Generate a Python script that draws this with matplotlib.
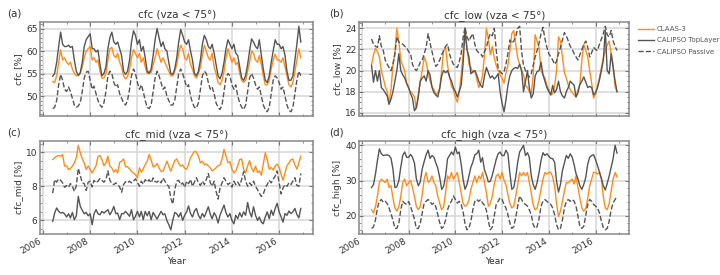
import matplotlib
matplotlib.use("Agg")
import matplotlib.pyplot as plt
import matplotlib.dates as mdates
from matplotlib.ticker import MultipleLocator, AutoMinorLocator
import pandas as pd

# monthly means, Jun 2006 .. Dec 2016
months = pd.date_range("2006-06-01", periods=127, freq="MS")

# ---- cfc (total) ----
claas_cfc = [53.2, 53.0, 54.5, 57.5, 60.3, 58.0, 58.5,
             57.5, 57.0, 57.5, 56.0, 55.0, 54.5, 54.5, 55.0, 56.5, 58.5, 60.0, 60.5,
             61.0, 58.0, 58.5, 57.5, 58.0, 55.5, 54.0, 54.0, 55.0, 58.0, 60.5, 60.8,
             59.0, 58.5, 59.5, 57.5, 56.5, 54.5, 53.8, 54.3, 56.0, 58.5, 60.3, 59.5,
             58.5, 59.5, 57.5, 58.5, 56.5, 55.0, 55.5, 55.2, 57.0, 58.5, 60.5, 59.0,
             57.5, 58.5, 57.5, 56.5, 55.5, 54.5, 54.5, 55.5, 57.0, 59.5, 61.3, 60.5,
             58.5, 58.0, 59.5, 57.0, 56.0, 54.5, 54.0, 55.0, 56.5, 59.0, 61.3, 60.0,
             58.5, 58.0, 59.5, 56.5, 55.0, 53.0, 52.5, 53.5, 55.5, 58.5, 60.5, 59.0,
             57.5, 58.5, 57.0, 57.5, 55.0, 53.5, 53.0, 53.5, 55.5, 57.5, 60.0, 59.5,
             58.0, 57.5, 59.0, 57.0, 54.5, 52.5, 52.5, 53.5, 56.0, 58.0, 59.3, 58.0,
             58.0, 57.5, 58.5, 56.5, 54.5, 52.5, 52.0, 53.0, 55.5, 58.0, 60.5, 58.5]
top_cfc = [54.4, 55.0, 57.5, 61.0, 64.2, 61.5, 61.0,
           61.0, 61.3, 60.8, 61.0, 58.0, 55.5, 54.6, 55.2, 57.5, 61.0, 62.5, 63.2,
           63.8, 60.5, 60.5, 59.8, 60.2, 57.0, 54.5, 55.0, 56.5, 60.5, 63.0, 64.2,
           62.0, 61.5, 62.0, 60.5, 59.0, 55.5, 54.8, 55.5, 58.0, 62.0, 64.5, 63.5,
           61.5, 62.5, 60.0, 61.0, 58.5, 55.5, 55.0, 56.0, 59.0, 62.5, 65.0, 63.0,
           61.0, 62.0, 60.5, 60.0, 57.5, 55.0, 54.8, 56.0, 58.5, 62.0, 64.8, 63.5,
           62.0, 61.5, 62.5, 60.0, 58.0, 55.0, 54.5, 55.5, 58.0, 61.5, 63.5, 62.5,
           61.0, 60.5, 61.5, 59.5, 57.0, 54.5, 53.8, 55.0, 57.5, 60.5, 62.5, 61.5,
           60.5, 61.5, 59.5, 59.0, 56.5, 54.0, 53.5, 54.5, 57.0, 60.0, 62.7, 62.0,
           61.0, 60.5, 62.5, 59.0, 56.0, 53.5, 53.0, 54.5, 57.5, 60.0, 62.5, 61.5,
           61.5, 60.5, 61.0, 59.0, 55.5, 53.5, 53.5, 54.5, 58.0, 61.5, 65.5, 62.0]
pas_cfc = [47.2, 47.5, 49.0, 52.5, 54.8, 53.5, 51.5,
           51.0, 52.0, 51.0, 49.5, 48.0, 47.5, 47.8, 48.5, 51.0, 54.0, 55.3, 55.5,
           53.5, 51.5, 52.2, 50.5, 49.0, 48.0, 47.5, 48.5, 51.0, 54.5, 55.5, 55.0,
           53.0, 52.0, 52.5, 50.5, 49.5, 48.5, 48.0, 49.0, 51.5, 54.5, 56.0, 55.0,
           53.0, 51.5, 52.5, 51.0, 49.0, 47.5, 47.2, 48.0, 51.0, 54.0, 55.5, 54.5,
           53.0, 51.5, 52.0, 50.0, 49.0, 48.0, 48.0, 49.0, 52.0, 55.0, 56.0, 55.0,
           53.5, 52.0, 52.5, 50.0, 48.5, 47.5, 47.3, 48.5, 51.5, 54.5, 55.5, 55.0,
           53.0, 51.5, 52.0, 50.5, 48.5, 47.5, 47.0, 48.0, 51.0, 54.0, 55.0, 54.5,
           52.5, 51.5, 52.5, 50.0, 48.5, 47.5, 47.0, 48.0, 51.0, 54.0, 55.0, 54.0,
           52.5, 51.5, 52.0, 50.0, 48.0, 47.0, 46.5, 47.5, 50.5, 53.5, 54.5, 54.0,
           53.0, 51.5, 52.0, 50.0, 48.0, 46.8, 46.5, 47.5, 50.5, 53.5, 55.5, 54.5]

# ---- cfc_low ----
claas_low = [20.6, 21.5, 22.1, 21.8, 21.3, 20.0, 19.3, 18.5, 18.0, 16.9,
             18.2, 20.5, 21.7, 24.0, 22.8, 21.0, 20.5, 20.0, 18.8, 18.3,
             18.0, 17.8, 17.5, 16.4, 17.8, 19.0, 20.0, 21.3, 20.8, 19.8,
             19.0, 18.5, 18.2, 17.7, 17.9, 18.3, 20.0, 21.9, 22.2, 20.5,
             19.5, 18.5, 18.2, 17.5, 17.0, 18.0, 19.5, 21.6, 24.1, 22.2,
             20.6, 20.3, 19.8, 20.0, 19.2, 18.4, 18.8, 19.5, 21.5, 24.0,
             23.0, 21.5, 22.3, 21.2, 20.5, 20.0, 19.6, 19.3, 18.8, 19.8,
             20.5, 21.8, 23.5, 23.8, 22.5, 21.2, 20.6, 20.0, 19.6, 18.6,
             18.4, 18.0, 17.8, 19.5, 23.4, 22.8, 22.2, 20.0, 19.6, 19.3,
             18.6, 18.2, 17.7, 17.8, 18.6, 20.0, 23.2, 22.8, 21.3, 19.8,
             19.3, 18.6, 18.2, 17.9, 17.7, 17.5, 18.2, 18.7, 21.0, 22.5,
             21.9, 21.3, 20.0, 18.8, 17.4, 17.8, 18.6, 19.3, 20.3, 21.2,
             21.9, 22.4, 22.8, 21.6, 20.6, 18.5, 18.0]
top_low = [20.5, 18.9, 20.0, 19.0, 20.0, 18.4, 18.2, 17.9, 17.6, 16.8,
           17.3, 18.0, 19.0, 20.0, 21.6, 20.0, 19.6, 19.3, 18.8, 18.4,
           17.8, 17.4, 16.2, 16.5, 17.5, 19.0, 19.3, 19.5, 19.0, 20.0,
           19.6, 18.4, 17.9, 17.7, 17.5, 18.3, 19.5, 20.0, 19.8, 20.0,
           19.4, 19.0, 18.4, 18.0, 17.5, 18.0, 18.6, 20.6, 23.8, 22.0,
           21.3, 19.7, 19.9, 20.0, 19.6, 19.0, 18.6, 18.4, 19.5, 20.3,
           19.8, 19.3, 19.5, 19.2, 19.4, 19.7, 18.0, 16.9, 16.1, 17.2,
           18.6, 19.5, 20.0, 20.2, 20.3, 20.2, 20.6, 20.0, 18.0, 19.0,
           20.0, 18.4, 17.4, 17.8, 19.5, 19.9, 20.0, 20.8, 19.6, 19.0,
           18.4, 18.0, 17.7, 18.6, 17.9, 18.2, 19.0, 18.0, 17.6, 17.4,
           18.0, 18.4, 19.0, 18.8, 18.6, 17.5, 17.9, 18.7, 19.0, 19.4,
           18.9, 18.4, 18.5, 18.4, 17.7, 17.9, 18.4, 19.1, 20.0, 21.0,
           23.8, 20.0, 19.7, 21.6, 20.3, 19.0, 18.0]
pas_low = [23.0, 22.5, 22.3, 22.2, 23.3, 22.3, 21.9, 21.0, 20.6, 20.3,
           20.0, 20.6, 21.6, 23.2, 22.7, 22.6, 22.5, 22.3, 22.2, 21.8,
           21.6, 20.6, 20.2, 20.0, 20.3, 20.8, 21.0, 21.6, 22.2, 23.5,
           22.6, 21.8, 21.0, 20.4, 20.6, 21.0, 21.5, 21.9, 22.3, 22.5,
           21.6, 21.0, 20.6, 20.4, 20.3, 20.8, 21.6, 23.1, 24.1, 23.2,
           22.8, 23.2, 23.5, 22.5, 21.9, 21.7, 21.6, 21.3, 21.8, 22.2,
           23.0, 23.5, 23.3, 24.0, 22.0, 20.2, 19.9, 19.7, 19.9, 20.6,
           21.6, 22.9, 22.6, 22.8, 23.2, 24.0, 24.2, 21.8, 20.5, 20.0,
           19.6, 19.4, 19.7, 20.5, 21.3, 21.9, 22.6, 23.5, 24.1, 23.0,
           22.2, 21.6, 21.3, 21.0, 20.6, 20.9, 21.6, 22.2, 22.9, 23.6,
           23.3, 22.8, 22.3, 22.0, 21.6, 21.3, 21.0, 21.5, 22.0, 22.5,
           22.8, 22.2, 21.3, 21.7, 22.2, 22.0, 21.9, 22.5, 23.0, 23.5,
           24.2, 23.4, 23.2, 23.8, 22.8, 22.3, 21.9]

# ---- cfc_mid ----
claas_mid = [9.57, 9.67, 9.76, 9.80, 9.76, 9.86, 9.18, 9.20, 8.98, 9.04,
             9.18, 9.37, 9.67, 10.40, 9.96, 9.60, 9.37, 8.98, 9.20, 8.98,
             8.78, 8.98, 9.20, 9.76, 9.80, 9.57, 9.20, 9.37, 9.76, 9.18,
             9.08, 8.82, 8.98, 8.78, 9.41, 9.47, 9.60, 9.14, 9.14, 9.02,
             8.88, 8.78, 8.69, 8.49, 9.08, 8.82, 9.02, 9.27, 9.47, 9.86,
             9.53, 9.14, 9.18, 9.33, 9.08, 8.88, 8.88, 9.14, 9.47, 9.18,
             8.88, 9.20, 9.50, 9.60, 9.35, 9.18, 9.25, 9.06, 9.00, 9.30,
             9.67, 9.86, 10.05, 10.00, 9.75, 9.37, 9.47, 9.27, 9.30, 9.20,
             9.08, 8.90, 8.98, 9.08, 9.20, 9.25, 9.60, 10.16, 9.80, 9.37,
             9.45, 9.00, 8.78, 8.90, 9.20, 9.57, 9.60, 9.00, 8.78, 9.20,
             9.50, 9.06, 8.85, 9.18, 8.80, 8.90, 8.65, 9.30, 9.96, 9.57,
             9.00, 9.10, 8.95, 9.18, 9.30, 9.10, 8.70, 8.35, 8.80, 9.20,
             9.37, 9.55, 9.60, 9.25, 9.00, 9.37, 9.76]
top_mid = [5.94, 6.43, 6.73, 6.53, 6.43, 6.47, 6.39, 6.20, 6.39, 6.14,
           6.47, 6.04, 6.27, 7.41, 6.82, 6.59, 6.39, 6.47, 6.27, 6.39,
           5.75, 6.39, 6.63, 6.39, 6.33, 6.53, 6.43, 6.53, 6.63, 6.33,
           6.53, 6.82, 6.39, 6.43, 6.04, 6.39, 6.39, 6.53, 6.39, 6.24,
           6.63, 6.04, 6.24, 6.53, 6.20, 6.53, 6.04, 6.53, 6.27, 6.53,
           6.04, 6.47, 6.27, 6.08, 6.31, 6.53, 6.33, 6.39, 6.00, 5.75,
           5.45, 6.00, 6.47, 6.39, 6.20, 6.45, 6.00, 6.30, 6.50, 6.85,
           6.40, 6.20, 6.55, 6.70, 6.30, 6.10, 6.40, 6.20, 6.50, 6.80,
           6.35, 6.10, 6.45, 6.25, 5.85, 6.30, 6.60, 6.90, 6.45, 6.20,
           6.40, 6.00, 5.80, 6.30, 6.10, 6.45, 6.20, 6.50, 6.30, 7.05,
           6.50, 6.20, 6.80, 6.30, 6.00, 6.20, 5.90, 5.80, 6.20, 6.50,
           6.10, 6.60, 6.30, 6.70, 7.00, 6.50, 6.20, 5.90, 6.40, 6.30,
           6.55, 6.40, 6.50, 6.70, 6.35, 6.15, 6.70]
pas_mid = [7.60, 8.39, 8.24, 8.43, 8.35, 8.20, 7.94, 8.04, 7.94, 8.16,
           8.00, 7.70, 8.04, 9.05, 8.63, 8.20, 8.16, 7.76, 8.24, 8.30,
           7.96, 8.35, 8.20, 8.30, 8.45, 8.35, 8.24, 8.39, 8.90, 8.35,
           8.16, 8.10, 8.20, 8.10, 7.96, 7.65, 8.10, 8.27, 8.20, 8.30,
           8.20, 8.31, 8.43, 8.24, 8.00, 8.30, 8.12, 8.39, 8.24, 8.39,
           8.20, 8.49, 8.27, 8.24, 8.35, 8.20, 8.49, 8.30, 8.10, 8.00,
           7.30, 6.95, 7.80, 8.30, 8.35, 8.10, 8.20, 7.95, 8.30, 8.15,
           8.40, 8.00, 8.25, 8.50, 8.20, 8.05, 8.30, 8.10, 8.40, 8.75,
           8.20, 8.00, 8.30, 7.70, 7.25, 7.90, 8.20, 8.50, 8.30, 8.10,
           8.20, 7.95, 8.30, 8.10, 8.25, 8.05, 8.40, 8.85, 8.30, 8.00,
           8.20, 8.05, 8.30, 8.00, 7.80, 7.60, 7.40, 7.55, 7.90, 8.10,
           8.35, 8.20, 8.40, 8.60, 8.90, 8.20, 7.55, 7.90, 8.10, 8.00,
           8.20, 8.10, 8.30, 8.50, 8.05, 8.00, 8.75]

# ---- cfc_high ----
claas_high = [21.7, 20.8, 22.5, 25.6, 29.4, 30.4, 29.9,
              29.4, 30.4, 28.0, 28.5, 25.1, 22.2, 21.3, 22.5, 25.5, 29.4, 30.4, 28.5,
              29.4, 30.0, 28.0, 25.5, 22.7, 21.7, 22.7, 26.0, 30.4, 32.3, 29.5, 29.9,
              31.3, 29.4, 28.5, 25.5, 23.5, 21.7, 22.5, 26.5, 31.3, 30.4, 32.3, 30.4,
              31.3, 32.3, 29.5, 26.6, 23.5, 22.7, 23.0, 24.5, 27.5, 29.4, 31.3, 29.4,
              31.3, 30.4, 32.3, 29.4, 26.6, 22.7, 23.5, 25.5, 29.0, 31.3, 31.8, 30.4,
              32.3, 30.0, 28.8, 26.0, 23.5, 22.2, 22.7, 25.5, 28.8, 32.3, 31.3, 32.3,
              31.3, 32.3, 29.5, 26.5, 23.0, 21.7, 22.2, 24.5, 27.5, 30.4, 32.3, 31.8,
              32.3, 32.3, 31.0, 28.5, 23.5, 19.8, 21.3, 24.0, 27.0, 29.4, 29.4, 29.9,
              30.4, 29.0, 31.3, 28.0, 25.0, 22.2, 21.3, 22.0, 25.0, 28.5, 30.4, 32.3,
              32.3, 31.8, 32.3, 30.4, 25.5, 22.2, 21.7, 23.5, 27.0, 30.4, 32.3, 31.0]
top_high = [28.0, 28.8, 31.8, 35.7, 39.0, 37.6, 37.1,
            37.2, 37.3, 37.1, 36.3, 33.3, 28.0, 28.2, 29.9, 33.8, 37.1, 38.1, 36.6,
            36.6, 37.4, 36.6, 35.0, 30.5, 28.5, 29.6, 33.3, 35.4, 37.3, 38.6, 36.3,
            37.1, 36.6, 35.0, 33.5, 30.9, 27.5, 28.3, 31.3, 36.2, 37.1, 38.1, 37.3,
            39.5, 37.6, 38.1, 34.7, 30.4, 27.5, 28.8, 31.3, 33.8, 35.2, 37.3, 37.6,
            38.6, 35.2, 36.5, 33.0, 31.5, 29.6, 29.8, 31.5, 33.8, 36.0, 37.6, 38.1,
            37.1, 37.1, 38.6, 37.6, 32.3, 27.5, 28.0, 30.9, 35.2, 38.1, 39.0, 40.0,
            37.1, 37.9, 36.6, 31.3, 28.9, 27.5, 29.4, 32.3, 35.7, 37.9, 37.1, 37.6,
            36.9, 36.3, 36.2, 35.2, 29.9, 26.7, 28.9, 32.8, 35.0, 37.1, 36.3, 37.6,
            36.6, 34.4, 32.0, 30.4, 28.5, 27.5, 28.9, 30.9, 34.7, 36.6, 37.1, 37.3,
            35.9, 34.2, 32.5, 30.6, 28.5, 27.3, 29.2, 31.3, 33.8, 36.2, 40.0, 37.8]
pas_high = [16.4, 16.8, 18.8, 22.2, 24.1, 24.6, 23.8,
            24.1, 23.4, 22.2, 20.5, 18.8, 16.4, 16.4, 17.8, 21.7, 24.1, 23.5, 23.2,
            24.0, 22.6, 21.0, 19.0, 16.4, 16.4, 17.8, 20.8, 23.6, 24.1, 24.6, 24.1,
            23.2, 23.6, 22.6, 20.3, 18.0, 16.4, 16.9, 18.8, 21.7, 23.2, 24.1, 25.6,
            24.6, 23.6, 24.1, 23.2, 21.2, 17.7, 16.0, 16.5, 18.5, 21.7, 24.1, 24.6,
            24.1, 24.6, 23.6, 23.0, 21.5, 18.5, 16.0, 16.8, 20.0, 23.2, 24.1, 25.1,
            24.6, 23.2, 22.2, 20.3, 18.0, 16.4, 16.9, 19.5, 22.7, 25.6, 24.6, 23.6,
            23.2, 22.7, 21.7, 20.3, 17.5, 16.4, 16.9, 19.2, 22.7, 24.1, 24.6, 24.1,
            23.6, 23.2, 22.2, 20.3, 17.5, 16.0, 16.4, 18.8, 22.2, 24.1, 24.6, 24.1,
            24.6, 24.1, 22.7, 19.8, 17.0, 16.4, 17.0, 20.2, 23.2, 24.6, 24.1, 23.2,
            22.7, 22.2, 20.8, 18.5, 16.6, 16.0, 16.4, 18.5, 21.7, 23.6, 24.6, 25.6]

panels = [("(a)", "cfc", claas_cfc, top_cfc, pas_cfc, 5),
          ("(b)", "cfc_low", claas_low, top_low, pas_low, 2),
          ("(c)", "cfc_mid", claas_mid, top_mid, pas_mid, 2),
          ("(d)", "cfc_high", claas_high, top_high, pas_high, 10)]
boxes = [[0.056, 0.578, 0.379, 0.342], [0.499, 0.578, 0.375, 0.342],
         [0.056, 0.149, 0.379, 0.338], [0.499, 0.149, 0.375, 0.338]]

ORANGE, GREY, TXT = "#ff8c1a", "#555555", "#333333"
fig = plt.figure(figsize=(7.2, 2.75), dpi=100)
for k, ((lab, var, c3, top, pas, step), box) in enumerate(zip(panels, boxes)):
    ax = fig.add_axes(box)
    ax.plot(months, c3, color=ORANGE, lw=1.0, label="CLAAS-3")
    ax.plot(months, top, color=GREY, lw=1.0, label="CALIPSO TopLayer")
    ax.plot(months, pas, color=GREY, lw=1.0, ls="--", label="CALIPSO Passive")
    ax.set_title(f"{var} (vza < 75°)", fontsize=7.5, color=TXT, pad=3)
    ax.text(-0.12 if k % 2 == 0 else -0.11, 1.04, lab, transform=ax.transAxes,
            fontsize=7.5, color=TXT, ha="left", va="bottom")
    ax.set_ylabel(f"{var} [%]", fontsize=6.5, color=TXT, labelpad=2)
    ax.yaxis.set_major_locator(MultipleLocator(step))
    ax.yaxis.set_minor_locator(AutoMinorLocator())
    ax.xaxis.set_major_locator(mdates.YearLocator(2))
    ax.xaxis.set_minor_locator(mdates.YearLocator(1))
    ax.xaxis.set_major_formatter(mdates.DateFormatter("%Y"))
    ax.grid(True, which="major", color="#d9d9d9", lw=1.2)
    ax.set_axisbelow(True)
    ax.tick_params(which="both", direction="in", top=True, right=True,
                   colors="#777777", labelcolor=TXT, labelsize=6.5, pad=2)
    ax.tick_params(which="major", length=3)
    ax.tick_params(which="minor", length=1.5)
    for s in ax.spines.values():
        s.set_color("#888888"); s.set_linewidth(1.1)
    if k < 2:
        ax.tick_params(labelbottom=False)
    else:
        ax.set_xlabel("Year", fontsize=6.5, color=TXT, labelpad=1)
        for t in ax.get_xticklabels():
            t.set_rotation(30); t.set_ha("right")
    if k == 1:
        handles, labels = ax.get_legend_handles_labels()

leg = fig.legend(handles, labels, loc="upper left", bbox_to_anchor=(0.882, 0.915),
                 frameon=False, fontsize=5, handlelength=2.3, handletextpad=0.4,
                 labelspacing=0.75, borderaxespad=0)
for t in leg.get_texts():
    t.set_color("#555555")
fig.savefig("out.png", dpi=100)
